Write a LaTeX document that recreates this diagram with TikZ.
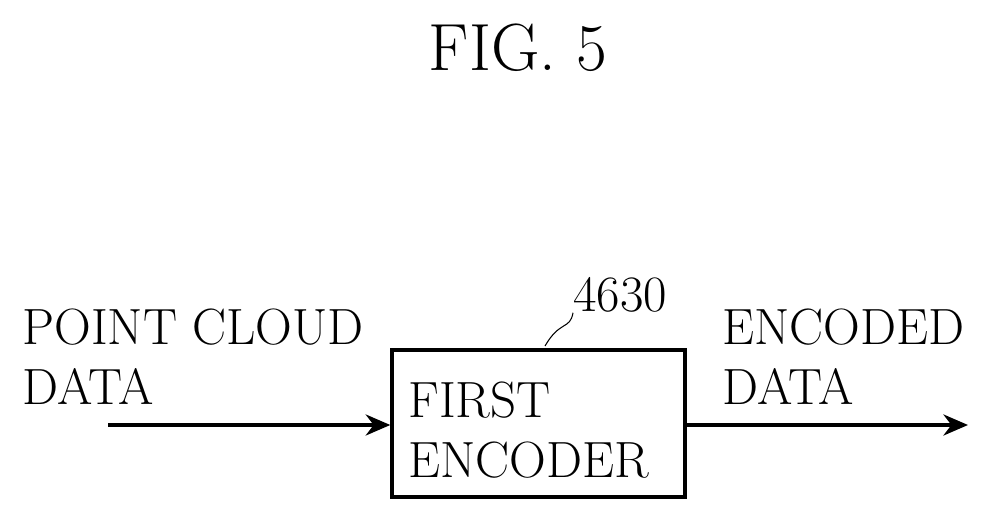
\documentclass[tikz,border=0pt]{standalone}
\usetikzlibrary{positioning,arrows.meta}
\begin{document}
\begin{tikzpicture}[x=0.02cm,y=-0.02cm]
		\tikzstyle{lbl}=[font=\fontsize{29}{34}\selectfont,align=left,inner sep=0pt]
		\tikzstyle{block}=[draw,line width=2pt,minimum width=5.86cm,minimum height=2.94cm,inner sep=0pt]
		\tikzstyle{flow}=[line width=2pt,-{Stealth[length=14pt,width=12pt]}]
		\useasboundingbox (0,0) rectangle (994,523);
			% title
		\node[font=\fontsize{38}{42}\selectfont] (title) at (518,48) {FIG. 5};
			% encoder block
		\node[block] (enc) at (538.5,423.5) {};
		\node[lbl,anchor=west] (enctext) at (408,430) {FIRST\\ENCODER};
		\node[lbl,anchor=west] (num) at (573,295) {4630};
		\coordinate (lead) at (545,346);
		\draw[line width=0.6pt] (lead) .. controls (560,320) and (570,330) .. (num.south west);
			% input and output
		\coordinate (src) at (108,425);
		\coordinate (dst) at (968,425);
		\node[lbl,anchor=west] (inlbl) at (22,357) {POINT CLOUD\\DATA};
		\node[lbl,anchor=west] (outlbl) at (722,357) {ENCODED\\DATA};
		\draw[flow] (src) -- (enc.west |- src);
		\draw[flow] (enc.east |- dst) -- (dst);
\end{tikzpicture}
\end{document}
